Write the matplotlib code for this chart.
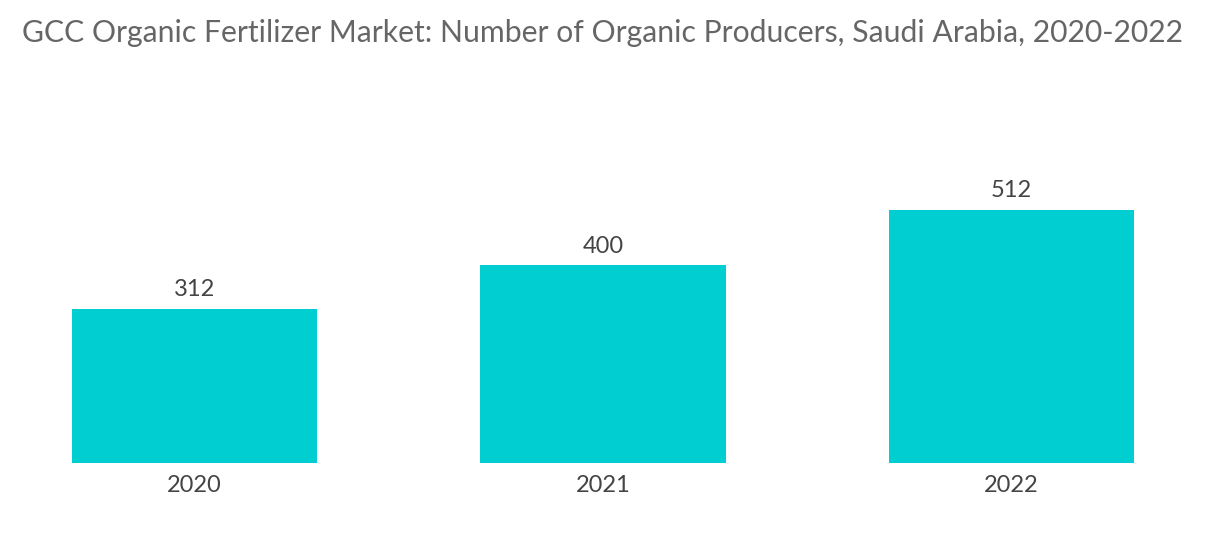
import matplotlib
matplotlib.use("Agg")
import matplotlib.pyplot as plt

years = ["2020", "2021", "2022"]
values = [312, 400, 512]

plt.rcParams['font.family'] = ['Lato', 'DejaVu Sans']
fig = plt.figure(figsize=(12.24, 5.47), dpi=100)
ax = fig.add_axes([72/1224, 1-463/547, (1134-72)/1224, 0.5418])
x = range(len(years))
bars = ax.bar(x, values, width=0.6, color="#00CED1")
ax.set_xlim(-0.3, 2.3)
ax.set_ylim(0, 600)
for xi, v in zip(x, values):
    ax.text(xi, v + 18, str(v), ha="center", va="bottom", fontsize=17, color="#444444")
ax.set_xticks(list(x))
ax.set_xticklabels(years, fontsize=17, color="#444444")
ax.tick_params(axis="x", length=0, pad=9)
ax.set_yticks([])
for s in ax.spines.values():
    s.set_visible(False)
fig.text(22/1224, 1-33/547, "GCC Organic Fertilizer Market: Number of Organic Producers, Saudi Arabia, 2020-2022",
         fontsize=21.7, color="#666666", va="center", ha="left")
fig.savefig("out.png", dpi=100)
